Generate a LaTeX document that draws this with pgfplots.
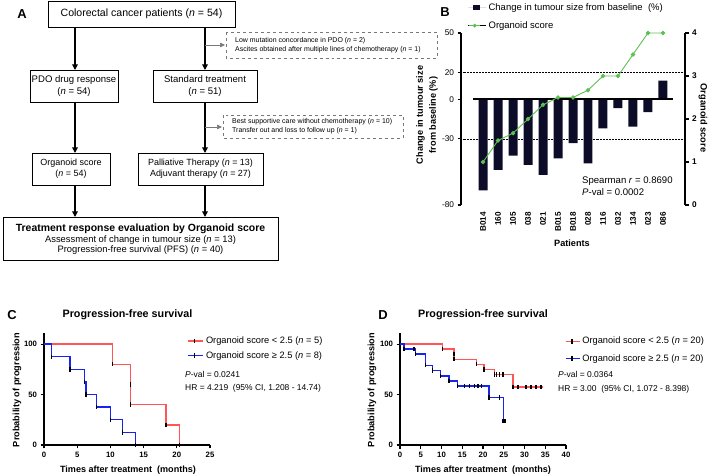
\documentclass[border=0pt]{standalone}
\usepackage{fontspec}
\setmainfont{Liberation Sans}
\usepackage{pgfplots}
\pgfplotsset{compat=1.18}
\usetikzlibrary{arrows.meta}
\definecolor{barcol}{RGB}{12,12,40}
\definecolor{grn}{RGB}{95,190,85}
\definecolor{kmred}{RGB}{255,85,85}
\definecolor{kmblue}{RGB}{25,35,240}
\definecolor{dgray}{RGB}{120,120,120}
\begin{document}
\begin{tikzpicture}
\path[use as bounding box] (0,0) rectangle (709bp,476bp);

% ---------------- Panel B: bars ----------------
\begin{axis}[at={(461bp,271bp)}, anchor=south west, scale only axis,
  width=224bp, height=172bp,
  xmin=-1.47, xmax=13.47, ymin=-80, ymax=50,
  axis y line*=left, axis x line*=bottom, x axis line style={draw=none},
  xtick={0,...,12},
  xticklabels={B014,160,105,038,021,B015,B018,028,116,032,134,023,086},
  x tick style={draw=none},
  xticklabel style={rotate=90, anchor=east, font=\bfseries\fontsize{8.2}{9}\selectfont},
  ytick={-80,-30,0,20,50}, tick align=outside, major tick length=3.5bp,
  yticklabel style={font=\fontsize{8.3}{9}\selectfont},
  y axis line style={line width=1.3pt}, y tick style={line width=1.1pt, black},
  /pgf/number format/assume math mode=true, clip=false,
  legend style={at={(axis cs:-1.0,73.9)}, anchor=north west, draw=none, fill=none,
    inner sep=0pt, row sep=5.5bp, font=\fontsize{9.5}{11}\selectfont},
  legend cell align=left]
\draw[densely dotted, line width=0.5pt] (axis cs:-1.47,20) -- (axis cs:13.47,20);
\draw[densely dotted, line width=0.5pt] (axis cs:-1.47,-30) -- (axis cs:13.47,-30);
\addplot[ybar, bar width=0.6, fill=barcol, draw=none,
  legend image code/.code={\path (0bp,0bp) -- (18bp,0bp);
    \fill[barcol] (4.7bp,-2.4bp) rectangle (11.3bp,2.4bp);}]
  coordinates {(0,-69) (1,-53.5) (2,-42.7) (3,-49.7) (4,-57.3) (5,-44.7) (6,-33.3)
               (7,-48.5) (8,-22) (9,-6.8) (10,-20.7) (11,-9.8) (12,14)};
\addlegendentry{Change in tumour size from baseline\ \ (\%)}
\addlegendimage{legend image code/.code={\path (0bp,0bp) -- (18bp,0bp);
   \draw[grn, line width=0.9pt] (1bp,0bp) -- (11.5bp,0bp);
   \fill[grn] (6.3bp,0bp) circle (1.7bp);}}
\addlegendentry{Organoid score}
\draw[line width=1.6pt] (axis cs:-0.65,0) -- (axis cs:12.65,0);
\end{axis}

% ---------------- Panel B: organoid score ----------------
\begin{axis}[at={(461bp,271bp)}, anchor=south west, scale only axis,
  width=224bp, height=172bp,
  xmin=-1.47, xmax=13.47, ymin=0, ymax=4,
  axis y line*=right, axis x line=none,
  ytick={0,1,2,3,4}, tick align=outside, major tick length=3.5bp,
  yticklabel style={font=\bfseries\fontsize{8.3}{9}\selectfont},
  y axis line style={line width=1.3pt}, y tick style={line width=1.1pt, black},
  /pgf/number format/assume math mode=true, clip=false]
\addplot[grn, line width=0.9pt, mark=*, mark size=1.7pt, mark options={fill=grn, draw=grn}]
  coordinates {(0,1) (1,1.5) (2,1.67) (3,2) (4,2.33) (5,2.5) (6,2.5) (7,2.67)
               (8,3) (9,3) (10,3.5) (11,4) (12,4)};
\end{axis}

% ---------------- Panel C ----------------
\begin{axis}[at={(44bp,31bp)}, anchor=south west, scale only axis,
  width=166bp, height=112bp,
  xmin=0, xmax=25, ymin=0, ymax=111,
  axis x line*=bottom, axis y line*=left,
  xtick={0,5,...,25}, ytick={0,50,100}, tick align=outside, major tick length=3.5bp,
  axis line style={line width=1.3pt}, tick style={line width=1.1pt, black},
  tick label style={font=\bfseries\fontsize{7.8}{9}\selectfont},
  /pgf/number format/assume math mode=true, clip=false,
  legend style={at={(axis cs:21.6,109.5)}, anchor=north west, draw=none, fill=none,
    inner sep=0pt, row sep=2.5bp, font=\fontsize{9.3}{11}\selectfont},
  legend cell align=left]
\addplot[kmred, line width=1.4pt, const plot,
  legend image code/.code={\path (0bp,0bp) -- (15bp,0bp);
    \draw[kmred, line width=1.4pt] (0bp,0bp) -- (12bp,0bp);
    \draw[black, line width=1.4pt] (6bp,-2.2bp) -- (6bp,2.2bp);}]
  coordinates {(0,100) (10.3,80) (13,40) (18.4,20) (20.4,0)};
\addlegendentry{Organoid score < 2.5 (\textit{n} = 5)}
\addplot[kmblue, line width=1.4pt, const plot,
  legend image code/.code={\path (0bp,0bp) -- (15bp,0bp);
    \draw[kmblue, line width=1.4pt] (0bp,0bp) -- (12bp,0bp);
    \draw[black, line width=1.4pt] (6bp,-2.2bp) -- (6bp,2.2bp);}]
  coordinates {(0,100) (1.1,87.5) (3.9,75) (6.1,62.5) (6.3,50) (7.9,37.5) (10,25) (11.8,12.5) (13.8,0)};
\addlegendentry{Organoid score ≥ 2.5 (\textit{n} = 8)}
\addplot[only marks, mark=|, mark size=2.2bp, black, line width=1.4pt, forget plot]
  coordinates {(10.3,80) (13,60) (13,40) (18.4,20) (20.4,0)
               (1.1,87.5) (3.9,75) (6.1,62.5) (6.3,50) (7.9,37.5) (10,25) (11.8,12.5) (13.8,0)};
\end{axis}

% ---------------- Panel D ----------------
\begin{axis}[at={(400bp,31bp)}, anchor=south west, scale only axis,
  width=166bp, height=112bp,
  xmin=0, xmax=40, ymin=0, ymax=111,
  axis x line*=bottom, axis y line*=left,
  xtick={0,5,...,40}, ytick={0,50,100}, tick align=outside, major tick length=3.5bp,
  axis line style={line width=1.3pt}, tick style={line width=1.1pt, black},
  tick label style={font=\bfseries\fontsize{7.8}{9}\selectfont},
  /pgf/number format/assume math mode=true, clip=false,
  legend style={at={(axis cs:39.7,109)}, anchor=north west, draw=none, fill=none,
    inner sep=0pt, row sep=5bp, font=\fontsize{9.3}{11}\selectfont},
  legend cell align=left]
\addplot[kmred, line width=1.4pt, const plot,
  legend image code/.code={\path (0bp,0bp) -- (14bp,0bp);
    \draw[kmred, line width=1.4pt] (0bp,0bp) -- (13bp,0bp);
    \draw[black, line width=1.4pt] (6.5bp,-2.2bp) -- (6.5bp,2.2bp);}]
  coordinates {(0,100) (10.2,95) (13,85) (18.4,80) (20.2,75) (22.8,70) (27.2,57.5) (34.4,57.5)};
\addlegendentry{Organoid score < 2.5 (\textit{n} = 20)}
\addplot[kmblue, line width=1.4pt, const plot,
  legend image code/.code={\path (0bp,0bp) -- (14bp,0bp);
    \draw[kmblue, line width=1.4pt] (0bp,0bp) -- (13bp,0bp);
    \draw[black, line width=1.4pt] (6.5bp,-2.2bp) -- (6.5bp,2.2bp);}]
  coordinates {(0,100) (1,95) (3.8,90) (6.2,79) (7.8,74) (9.8,68.5) (11.8,63.5) (13.8,58.5) (21.4,47) (25,24)};
\addlegendentry{Organoid score ≥ 2.5 (\textit{n} = 20)}
\addplot[only marks, mark=|, mark size=2.2bp, black, line width=1.4pt, forget plot]
  coordinates {(10.2,95) (13,90) (13,85) (18.4,80) (20.2,75) (22.8,70) (23.3,70) (24,70) (24.8,70)
               (27.2,57.5) (28.4,57.5) (30.4,57.5) (31.6,57.5) (32.8,57.5) (34,57.5)
               (1,95) (3.4,95) (3.8,90) (6.2,79) (7.8,74) (9.8,68.5) (11.8,63.5) (13.8,58.5)
               (15.6,58.5) (16.8,58.5) (18,58.5) (18.8,58.5) (19.6,58.5) (21.4,47) (24,47)};
\addplot[only marks, mark=square*, mark size=1.6bp, black, forget plot] coordinates {(25,24)};
\end{axis}

% ---------------- Text and flowchart ----------------
\begin{scope}[x=1bp, y=-1bp, shift={(0,476bp)}, every node/.style={inner sep=0pt}]
\tikzset{arr/.style={line width=1.1pt, -{Triangle[length=5.5bp,width=5.5bp]}},
         garr/.style={dgray, line width=0.6pt, -{Triangle[length=5bp,width=4.5bp]}},
         dbox/.style={dgray, dashed, line width=0.5pt}}
% panel letters
\node[font=\bfseries\fontsize{13}{15}\selectfont] at (22,14) {A};
\node[font=\bfseries\fontsize{13}{15}\selectfont] at (445,12) {B};
\node[font=\bfseries\fontsize{13}{15}\selectfont] at (12,315) {C};
\node[font=\bfseries\fontsize{13}{15}\selectfont] at (383,315) {D};
% flowchart
\draw[line width=0.9pt] (48,1) rectangle (235,27);
\node[font=\fontsize{10.6}{12}\selectfont] at (141.5,14) {Colorectal cancer patients (\textit{n} = 54)};
\draw[arr] (75,27) -- (75,70);
\draw[arr] (205,27) -- (205,70);
\draw[garr] (205,45) -- (225,45);
\draw[dbox] (226,32) rectangle (437,58);
\node[anchor=west, font=\fontsize{7}{8}\selectfont] at (235,41) {Low mutation concordance in PDO (\textit{n} = 2)};
\node[anchor=west, font=\fontsize{7}{8}\selectfont] at (235,50) {Ascites obtained after multiple lines of chemotherapy (\textit{n} = 1)};
\draw[line width=0.9pt] (30,70) rectangle (118,102);
\node[align=center, font=\fontsize{9.6}{11.5}\selectfont] at (74,86) {PDO drug response\\(\textit{n} = 54)};
\draw[line width=0.9pt] (153,70) rectangle (257,102);
\node[align=center, font=\fontsize{9.6}{11.5}\selectfont] at (205,86) {Standard treatment\\(\textit{n} = 51)};
\draw[arr] (75,102) -- (75,153);
\draw[arr] (205,102) -- (205,153);
\draw[garr] (205,127) -- (222,127);
\draw[dbox] (223,115) rectangle (403,138);
\node[anchor=west, font=\fontsize{7}{8}\selectfont] at (232,122) {Best supportive care without chemotherapy (\textit{n} = 10)};
\node[anchor=west, font=\fontsize{7}{8}\selectfont] at (232,131) {Transfer out and loss to follow up (\textit{n} = 1)};
\draw[line width=0.9pt] (32,153) rectangle (110,185);
\node[align=center, font=\fontsize{9}{11}\selectfont] at (71,169) {Organoid score\\(\textit{n} = 54)};
\draw[line width=0.9pt] (138,153) rectangle (263,185);
\node[align=center, font=\fontsize{9}{11}\selectfont] at (200.5,169) {Palliative Therapy (\textit{n} = 13)\\Adjuvant therapy (\textit{n} = 27)};
\draw[arr] (75,185) -- (75,217);
\draw[arr] (205,185) -- (205,217);
\draw[line width=0.9pt] (3,217) rectangle (278,260);
\node[font=\bfseries\fontsize{10.5}{12}\selectfont] at (140.5,229) {Treatment response evaluation by Organoid score};
\node[font=\fontsize{9.4}{11}\selectfont] at (140.5,240) {Assessment of change in tumour size (\textit{n} = 13)};
\node[font=\fontsize{9.4}{11}\selectfont] at (140.5,250.5) {Progression-free survival (PFS) (\textit{n} = 40)};
% panel B labels
\node[rotate=90, align=center, font=\bfseries\fontsize{9.2}{13}\selectfont] at (427,115) {Change in tumour size\\from baseline (\%)};
\node[rotate=-90, font=\bfseries\fontsize{9.3}{11}\selectfont] at (703,118) {Organoid score};
\node[font=\bfseries\fontsize{9.2}{11}\selectfont] at (572,243) {Patients};
\node[anchor=west, font=\fontsize{9.6}{11}\selectfont] at (582,181) {Spearman \textit{r} = 0.8690};
\node[anchor=west, font=\fontsize{9.6}{11}\selectfont] at (582,192) {\textit{P}-val = 0.0002};
% panel C labels
\node[font=\bfseries\fontsize{10.8}{12}\selectfont] at (127.5,315) {Progression-free survival};
\node[rotate=90, font=\bfseries\fontsize{9.2}{11}\selectfont] at (17,390) {Probability of progression};
\node[font=\bfseries\fontsize{9.1}{11}\selectfont] at (128,470) {Times after treatment\ \ (months)};
\node[anchor=west, font=\fontsize{8.5}{10}\selectfont] at (185,374) {\textit{P}-val = 0.0241};
\node[anchor=west, font=\fontsize{8.5}{10}\selectfont] at (185,388) {HR = 4.219\ \ (95\% CI, 1.208 - 14.74)};
% panel D labels
\node[font=\bfseries\fontsize{10.8}{12}\selectfont] at (483,315) {Progression-free survival};
\node[rotate=90, font=\bfseries\fontsize{9.2}{11}\selectfont] at (372,390) {Probability of progression};
\node[font=\bfseries\fontsize{9.1}{11}\selectfont] at (483,470) {Times after treatment\ \ (months)};
\node[anchor=west, font=\fontsize{8.5}{10}\selectfont] at (558,374) {\textit{P}-val = 0.0364};
\node[anchor=west, font=\fontsize{8.5}{10}\selectfont] at (558,389) {HR = 3.00\ \ (95\% CI, 1.072 - 8.398)};
\end{scope}
\end{tikzpicture}
\end{document}
